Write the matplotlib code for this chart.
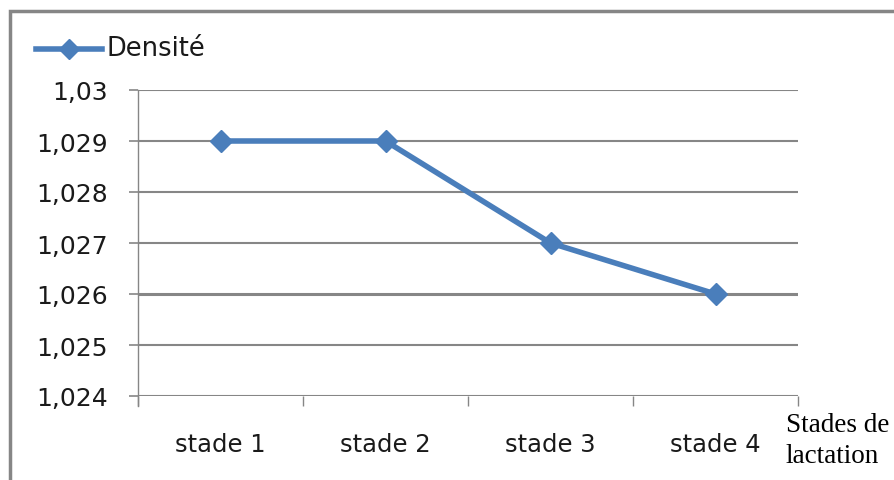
import matplotlib
matplotlib.use("Agg")
import matplotlib.pyplot as plt
from matplotlib.patches import Rectangle
from matplotlib.lines import Line2D

categories = ["stade 1", "stade 2", "stade 3", "stade 4"]
densite = [1.029, 1.029, 1.027, 1.026]
y_ticks = [1.024, 1.025, 1.026, 1.027, 1.028, 1.029, 1.030]
y_labels = ["1,024", "1,025", "1,026", "1,027", "1,028", "1,029", "1,03"]
series_name = "Densité"
x_title = "Stades de\nlactation"

W, H = 895, 481
fig = plt.figure(figsize=(W / 100, H / 100), dpi=100)
fig.patch.set_facecolor("white")

# outer chart frame (extends past right/bottom edges)
fig.patches.append(Rectangle((10.5 / W, -0.05), 1.2, 1 - 11.5 / H + 0.05,
                             transform=fig.transFigure, fill=False,
                             edgecolor="#868686", linewidth=2.5, zorder=0))

left, right, top, bottom = 138, 798, 91, 397
ax = fig.add_axes([left / W, 1 - bottom / H, (right - left) / W, (bottom - top) / H])

grid_col = "#868686"
line_col = "#4A7EBB"
x = list(range(len(categories)))
ax.set_xlim(-0.5, len(categories) - 0.5)
ax.set_ylim(1.024, 1.030)

for v in y_ticks:
    lw = 2.2 if abs(v - 1.026) < 1e-9 else 1.5
    ax.axhline(v, color=grid_col, linewidth=lw, zorder=1)

ax.plot(x, densite, color=line_col, linewidth=4.0, marker="D",
        markersize=11, markeredgecolor=line_col, zorder=3,
        solid_joinstyle="round")

for s in ["top", "right", "bottom"]:
    ax.spines[s].set_visible(False)
ax.spines["left"].set_color(grid_col)
ax.spines["left"].set_linewidth(1.0)
ax.spines["left"].set_bounds(1.024 - 0.0002, 1.030)

ax.set_yticks(y_ticks)
ax.set_yticklabels(y_labels)
ax.tick_params(axis="y", length=6.5, width=1.2, color=grid_col, pad=15,
               labelsize=18, labelcolor="#1a1a1a")

# x ticks at category boundaries, labels centered on categories
ax.set_xticks([i - 0.5 for i in range(len(categories) + 1)])
ax.set_xticklabels([""] * (len(categories) + 1))
ax.tick_params(axis="x", length=7.5, width=1.0, color=grid_col)
for i, c in enumerate(categories):
    ax.text(i, -0.157, c, transform=ax.get_xaxis_transform(), ha="center",
            va="center", fontsize=17.5, color="#1a1a1a")

fig.text(786 / W, 1 - 441 / H, x_title, ha="left", va="center",
         fontsize=19.5, family="Liberation Serif", color="black",
         linespacing=1.3)

# legend
fig.add_artist(Line2D([36 / W, 102 / W], [1 - 50 / H] * 2, color=line_col,
                      linewidth=4.0, transform=fig.transFigure))
fig.add_artist(Line2D([69 / W], [1 - 50 / H], color=line_col, marker="D",
                      markersize=10, linestyle="none",
                      transform=fig.transFigure))
fig.text(107 / W, 1 - 49 / H, series_name, ha="left", va="center",
         fontsize=18.5, color="#1a1a1a")

fig.savefig("out.png", dpi=100)
